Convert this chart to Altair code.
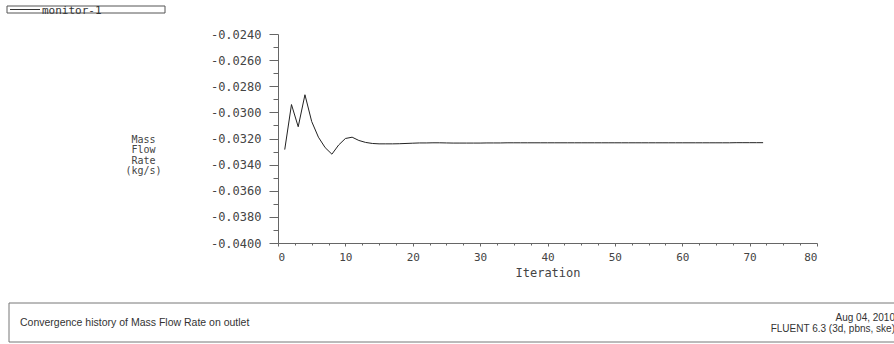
import altair as alt
import pandas as pd

# ---- data ----
iterations = list(range(1, 73))
mass_flow = [
    -0.03285, -0.02940, -0.03110, -0.02865, -0.03070, -0.03190, -0.03270, -0.03320,
    -0.03250, -0.03200, -0.03190, -0.03215, -0.03230, -0.03238, -0.03241, -0.03241,
    -0.03241, -0.03240, -0.03238, -0.03236, -0.03234, -0.03234, -0.03233, -0.03233,
    -0.03234, -0.03235, -0.03235, -0.03235, -0.03235, -0.03235, -0.03234, -0.03234,
    -0.03234, -0.03233, -0.03233, -0.03233, -0.03233, -0.03233, -0.03233, -0.03233,
    -0.03233, -0.03233, -0.03233, -0.03233, -0.03233, -0.03233, -0.03233, -0.03233,
    -0.03233, -0.03233, -0.03233, -0.03233, -0.03233, -0.03233, -0.03233, -0.03233,
    -0.03233, -0.03233, -0.03233, -0.03233, -0.03233, -0.03233, -0.03233, -0.03233,
    -0.03233, -0.03233, -0.03233, -0.03232, -0.03232, -0.03232, -0.03232, -0.03232,
]
y_major = [-0.040, -0.038, -0.036, -0.034, -0.032, -0.030, -0.028, -0.026, -0.024]
y_minor = [-0.039, -0.037, -0.035, -0.033, -0.031, -0.029, -0.027, -0.025]
x_major = [0, 10, 20, 30, 40, 50, 60, 70, 80]
x_minor = [2.5, 5, 7.5, 12.5, 15, 17.5, 22.5, 25, 27.5, 32.5, 35, 37.5, 42.5, 45, 47.5,
           52.5, 55, 57.5, 62.5, 65, 67.5, 72.5, 75, 77.5]
y_title = ["Mass", "Flow", "Rate", "(kg/s)"]
x_title = "Iteration"
legend_label = "monitor-1"
footer_left = "Convergence history of Mass Flow Rate on outlet"
footer_right = ["Aug 04, 2010", "FLUENT 6.3 (3d, pbns, ske)"]

df = pd.DataFrame({"Iteration": iterations, "MassFlow": mass_flow})

MONO = "DejaVu Sans Mono"
AX = "#666666"
TXT = "#444444"

xscale = alt.Scale(domain=[0, 80], nice=False, zero=False)
yscale = alt.Scale(domain=[-0.040, -0.024], nice=False, zero=False)

line = alt.Chart(df).mark_line(color="#222222", strokeWidth=1).encode(
    x=alt.X("Iteration:Q", scale=xscale,
            axis=alt.Axis(values=x_major, orient="bottom", title=x_title, format="d",
                          tickSize=3, labelPadding=5, domainColor=AX, tickColor=AX,
                          labelFont=MONO, labelFontSize=11, labelColor=TXT,
                          titleFont=MONO, titleFontSize=12, titleFontWeight="normal",
                          titleColor=TXT, titleY=29, titleBaseline="middle", grid=False)),
    y=alt.Y("MassFlow:Q", scale=yscale,
            axis=alt.Axis(values=y_major, orient="left", format=".4f", title=y_title,
                          tickSize=9, labelPadding=8, domainColor=AX, tickColor=AX,
                          labelFont=MONO, labelFontSize=12, labelColor=TXT,
                          labelExpr="replace(datum.label, '\u2212', '-')",
                          titleFont=MONO, titleFontSize=10, titleFontWeight="normal",
                          titleColor=TXT, titleAngle=0, titleX=-135, titleY=105,
                          titleAlign="center", titleBaseline="middle",
                          titleLineHeight=10.5, grid=False)),
)

minor = alt.Chart(df).mark_point(opacity=0).encode(
    x=alt.X("Iteration:Q", scale=xscale,
            axis=alt.Axis(values=x_minor, orient="bottom", labels=False, domain=False,
                          tickSize=2, tickColor=AX, title=None, grid=False)),
    y=alt.Y("MassFlow:Q", scale=yscale,
            axis=alt.Axis(values=y_minor, orient="left", labels=False, domain=False,
                          tickSize=5, tickColor=AX, title=None, grid=False)),
)

one = pd.DataFrame({"k": [0]})

footer_box = alt.Chart(one).mark_rect(fillOpacity=0, stroke="#777777", strokeWidth=1).encode(
    x=alt.value(-269), x2=alt.value(625), y=alt.value(269), y2=alt.value(308))

legend_box = alt.Chart(one).mark_rect(fillOpacity=0, stroke="#555555", strokeWidth=1).encode(
    x=alt.value(-271), x2=alt.value(-113), y=alt.value(-28), y2=alt.value(-21))

legend_line = alt.Chart(one).mark_rule(color="#333333", strokeWidth=1).encode(
    x=alt.value(-268), x2=alt.value(-238), y=alt.value(-24.5))

legend_text = alt.Chart(pd.DataFrame({"t": [legend_label]})).mark_text(
    font=MONO, fontSize=11, color="#333333", align="left", baseline="alphabetic"
).encode(text="t:N", x=alt.value(-236), y=alt.value(-20.5))

footer_l = alt.Chart(pd.DataFrame({"t": [footer_left]})).mark_text(
    font="Liberation Sans", fontSize=10.5, color="#333333", align="left", baseline="middle"
).encode(text="t:N", x=alt.value(-258), y=alt.value(289))

footer_r = alt.Chart(pd.DataFrame({"t": [footer_right]})).mark_text(
    font="Liberation Sans", fontSize=10, color="#333333", align="right", baseline="middle",
    lineHeight=10.5
).encode(text="t:N", x=alt.value(617), y=alt.value(284))

chart = alt.layer(
    minor, line, footer_box, legend_box, legend_line, legend_text, footer_l, footer_r
).resolve_axis(x="independent", y="independent").properties(
    width=539, height=209,
    padding={"left": 278, "top": 34, "right": 77, "bottom": 101},
    autosize="none",
    background="white",
).configure_view(stroke=None)

chart.save("out.html", embed_options={"renderer": "svg", "actions": False})
